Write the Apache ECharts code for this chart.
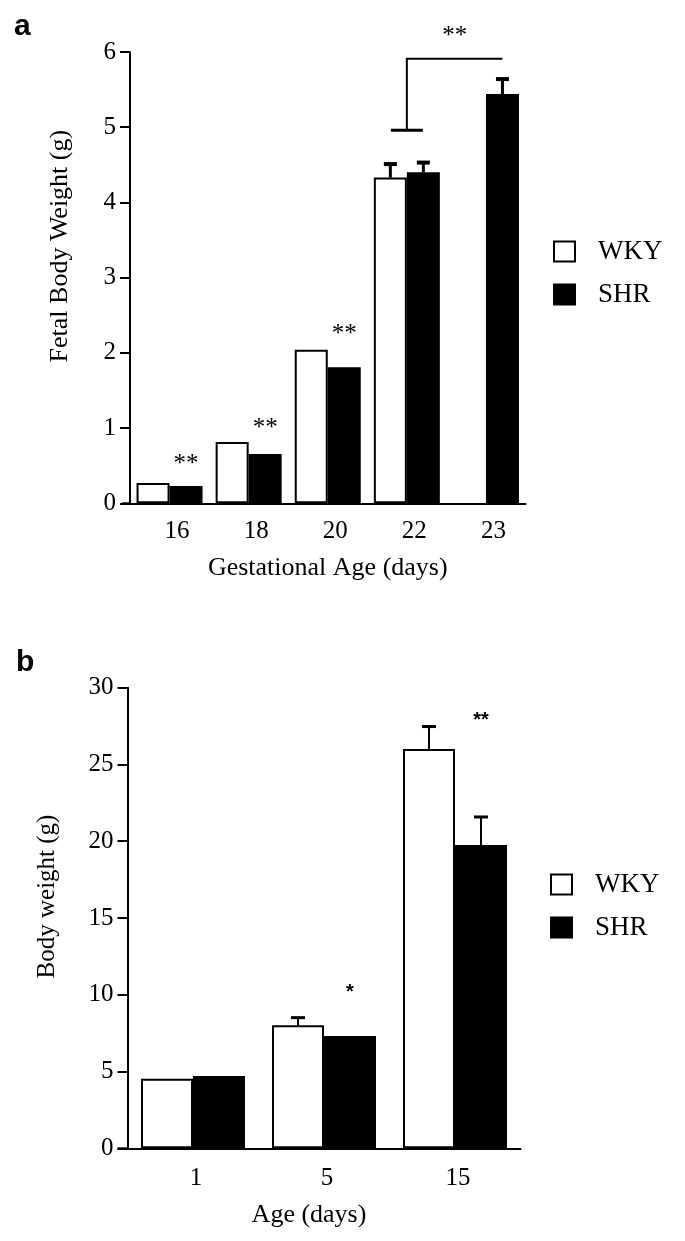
<!DOCTYPE html>
<html>
<head>
<meta charset="utf-8">
<script src="https://cdn.jsdelivr.net/npm/echarts@6/dist/echarts.min.js"></script>
<style>
html,body{margin:0;padding:0;background:#fff;}
#chart{width:685px;height:1241px;}
</style>
</head>
<body>
<div id="chart"></div>
<script>
// ---------- DATA ----------
// Panel a: fetal body weight (g) by gestational age (days)
var aCategories = ['16', '18', '20', '22', '23'];
var aWKY = [0.27, 0.815, 2.04, 4.33, null];
var aSHR = [0.23, 0.655, 1.81, 4.40, 5.44];
var aWKYErr = [null, null, null, 0.18, null];
var aSHRErr = [null, null, null, 0.13, 0.20];
var aStars = ['**', '**', '**', null, null];
var aStarY = [0.60, 1.07, 2.33, null, null];
// bracket: from 22 (both groups) to 23 SHR
var aBracketLow = 4.96;
var aBracketHigh = 5.91;
var aBracketStar = '**';
var aBracketStarY = 6.29;
var aYTicks = [0, 1, 2, 3, 4, 5, 6];

// Panel b: body weight (g) by age (days)
var bCategories = ['1', '5', '15'];
var bWKY = [4.53, 8.01, 26.0];
var bSHR = [4.71, 7.32, 19.76];
var bWKYErr = [null, 0.50, 1.47];
var bSHRErr = [null, null, 1.82];
var bStars = [null, '*', '**'];
var bStarY = [null, 10.46, 28.2];
var bYTicks = [0, 5, 10, 15, 20, 25, 30];

// ---------- LAYOUT ----------
var SERIF = 'Liberation Serif';
var gA = {left: 130, top: 52, width: 395.5, height: 451.3};
var gB = {left: 127.5, top: 687.7, width: 393, height: 460.6};
var bwA = 33, bwB = 52;

function errData(vals, errs) {
  var out = [];
  for (var i = 0; i < vals.length; i++) {
    if (vals[i] != null && errs[i] != null) out.push([i, vals[i], errs[i]]);
  }
  return out;
}
function starData(stars, ys) {
  var out = [];
  for (var i = 0; i < stars.length; i++) {
    if (stars[i]) out.push([i, ys[i], stars[i]]);
  }
  return out;
}
function errRender(side, bw, capW, lw) {
  return function (params, api) {
    var c = api.coord([api.value(0), api.value(1)]);
    var t = api.coord([api.value(0), api.value(1) + api.value(2)]);
    var x = c[0] + side * bw / 2;
    return {
      type: 'group',
      children: [
        {type: 'line', shape: {x1: x, y1: c[1], x2: x, y2: t[1]}, style: {stroke: '#000', lineWidth: lw}},
        {type: 'line', shape: {x1: x - capW / 2, y1: t[1], x2: x + capW / 2, y2: t[1]}, style: {stroke: '#000', lineWidth: lw + 1}}
      ]
    };
  };
}
function starRender(bw, font, dy) {
  return function (params, api) {
    var c = api.coord([api.value(0), api.value(1)]);
    return {
      type: 'text',
      style: {
        x: c[0] + bw / 2, y: c[1] + dy,
        text: api.value(2),
        font: font,
        fill: '#000', align: 'center', verticalAlign: 'middle'
      }
    };
  };
}

var axisLineStyle = {color: '#000', width: 2};
var legendText = {fontFamily: SERIF, fontSize: 27, color: '#000', padding: [0, 0, 0, 18]};

var option = {
  animation: false,
  backgroundColor: '#fff',
  grid: [
    {left: gA.left, top: gA.top, width: gA.width, height: gA.height, containLabel: false},
    {left: gB.left, top: gB.top, width: gB.width, height: gB.height, containLabel: false}
  ],
  legend: [
    {
      orient: 'vertical', left: 553, top: 238, padding: 0,
      data: ['WKY', 'SHR'], icon: 'rect', itemWidth: 21, itemHeight: 20, itemGap: 16,
      selectedMode: false, textStyle: legendText
    },
    {
      orient: 'vertical', left: 550, top: 871, padding: 0,
      data: ['WKY', 'SHR'], icon: 'rect', itemWidth: 21, itemHeight: 20, itemGap: 16,
      selectedMode: false, textStyle: legendText
    }
  ],
  xAxis: [
    {
      type: 'category', gridIndex: 0, data: aCategories,
      axisLine: {lineStyle: axisLineStyle},
      axisTick: {alignWithLabel: true, length: 10, lineStyle: axisLineStyle},
      axisLabel: {fontFamily: SERIF, fontSize: 25, color: '#000', margin: 16, padding: [0, 0, 0, 15]},
      name: 'Gestational Age (days)', nameLocation: 'middle', nameGap: 52,
      nameTextStyle: {fontFamily: SERIF, fontSize: 26, color: '#000'}
    },
    {
      type: 'category', gridIndex: 1, data: bCategories,
      axisLine: {lineStyle: axisLineStyle},
      axisTick: {alignWithLabel: true, length: 10, lineStyle: axisLineStyle},
      axisLabel: {fontFamily: SERIF, fontSize: 25, color: '#000', margin: 18, padding: [0, 0, 0, 6]},
      name: 'Age (days)', nameLocation: 'middle', nameGap: 54,
      nameTextStyle: {fontFamily: SERIF, fontSize: 26, color: '#000', padding: [0, 30, 0, 0]}
    }
  ],
  yAxis: [
    {
      type: 'value', gridIndex: 0, min: aYTicks[0], max: aYTicks[aYTicks.length - 1], interval: 1,
      splitLine: {show: false},
      axisLine: {show: true, lineStyle: axisLineStyle},
      axisTick: {show: true, length: 10, lineStyle: axisLineStyle},
      axisLabel: {fontFamily: SERIF, fontSize: 25, color: '#000', margin: 14},
      name: 'Fetal Body Weight (g)', nameLocation: 'middle', nameGap: 57,
      nameTextStyle: {fontFamily: SERIF, fontSize: 26, color: '#000', padding: [0, 0, 0, 63]}
    },
    {
      type: 'value', gridIndex: 1, min: bYTicks[0], max: bYTicks[bYTicks.length - 1], interval: 5,
      splitLine: {show: false},
      axisLine: {show: true, lineStyle: axisLineStyle},
      axisTick: {show: true, length: 10, lineStyle: axisLineStyle},
      axisLabel: {fontFamily: SERIF, fontSize: 25, color: '#000', margin: 14},
      name: 'Body weight (g)', nameLocation: 'middle', nameGap: 68,
      nameTextStyle: {fontFamily: SERIF, fontSize: 25, color: '#000', padding: [0, 0, 0, 43]}
    }
  ],
  series: [
    {name: 'WKY', type: 'bar', xAxisIndex: 0, yAxisIndex: 0, data: aWKY, barWidth: bwA, barGap: '0%',
      itemStyle: {color: '#fff', borderColor: '#000', borderWidth: 2}},
    {name: 'SHR', type: 'bar', xAxisIndex: 0, yAxisIndex: 0, data: aSHR, barWidth: bwA, barGap: '0%',
      itemStyle: {color: '#000', borderColor: '#000', borderWidth: 2}},
    {name: 'WKY', type: 'bar', xAxisIndex: 1, yAxisIndex: 1, data: bWKY, barWidth: bwB, barGap: '0%',
      itemStyle: {color: '#fff', borderColor: '#000', borderWidth: 2}},
    {name: 'SHR', type: 'bar', xAxisIndex: 1, yAxisIndex: 1, data: bSHR, barWidth: bwB, barGap: '0%',
      itemStyle: {color: '#000', borderColor: '#000', borderWidth: 2}},
    // error bars
    {type: 'custom', xAxisIndex: 0, yAxisIndex: 0, data: errData(aWKY, aWKYErr), renderItem: errRender(-1, bwA, 13, 3), z: 5},
    {type: 'custom', xAxisIndex: 0, yAxisIndex: 0, data: errData(aSHR, aSHRErr), renderItem: errRender(1, bwA, 13, 3), z: 5},
    {type: 'custom', xAxisIndex: 1, yAxisIndex: 1, data: errData(bWKY, bWKYErr), renderItem: errRender(-1, bwB, 14, 2), z: 5},
    {type: 'custom', xAxisIndex: 1, yAxisIndex: 1, data: errData(bSHR, bSHRErr), renderItem: errRender(1, bwB, 14, 2), z: 5},
    // significance stars
    {type: 'custom', xAxisIndex: 0, yAxisIndex: 0, data: starData(aStars, aStarY),
      renderItem: starRender(bwA, '25px "Liberation Serif"', 6), z: 6},
    {type: 'custom', xAxisIndex: 1, yAxisIndex: 1, data: starData(bStars, bStarY),
      renderItem: starRender(bwB, 'bold 20px "Liberation Sans"', 5), z: 6},
    // bracket 22 -> 23
    {type: 'custom', xAxisIndex: 0, yAxisIndex: 0, z: 6,
      data: [[3, aBracketLow, 4, aBracketHigh, aBracketStarY]],
      renderItem: function (params, api) {
        var lo = api.coord([api.value(0), api.value(1)]);
        var hi = api.coord([api.value(0), api.value(3)]);
        var end = api.coord([api.value(2), api.value(3)]);
        var st = api.coord([api.value(0), api.value(4)]);
        var xEnd = end[0] + bwA / 2;
        return {
          type: 'group',
          children: [
            {type: 'line', shape: {x1: lo[0] - 16, y1: lo[1], x2: lo[0] + 16, y2: lo[1]}, style: {stroke: '#000', lineWidth: 3}},
            {type: 'polyline', shape: {points: [[lo[0], lo[1]], [hi[0], hi[1]], [xEnd, hi[1]]]}, style: {stroke: '#000', lineWidth: 2, fill: null}},
            {type: 'text', style: {x: (lo[0] + xEnd) / 2, y: st[1] + 6, text: aBracketStar, font: '25px "Liberation Serif"', fill: '#000', align: 'center', verticalAlign: 'middle'}}
          ]
        };
      }
    }
  ],
  graphic: [
    {type: 'line', shape: {x1: gA.left - 8, y1: gA.top + gA.height, x2: gA.left, y2: gA.top + gA.height}, style: {stroke: '#000', lineWidth: 2}},
    {type: 'line', shape: {x1: gB.left - 10, y1: gB.top + gB.height, x2: gB.left, y2: gB.top + gB.height}, style: {stroke: '#000', lineWidth: 2}},
    {type: 'text', left: 14, top: 12, style: {text: 'a', font: 'bold 30px "Liberation Sans"', fill: '#000'}},
    {type: 'text', left: 16, top: 648, style: {text: 'b', font: 'bold 30px "Liberation Sans"', fill: '#000'}}
  ]
};

var chart = echarts.init(document.getElementById('chart'), null, {renderer: 'canvas'});
chart.setOption(option);
</script>
</body>
</html>
